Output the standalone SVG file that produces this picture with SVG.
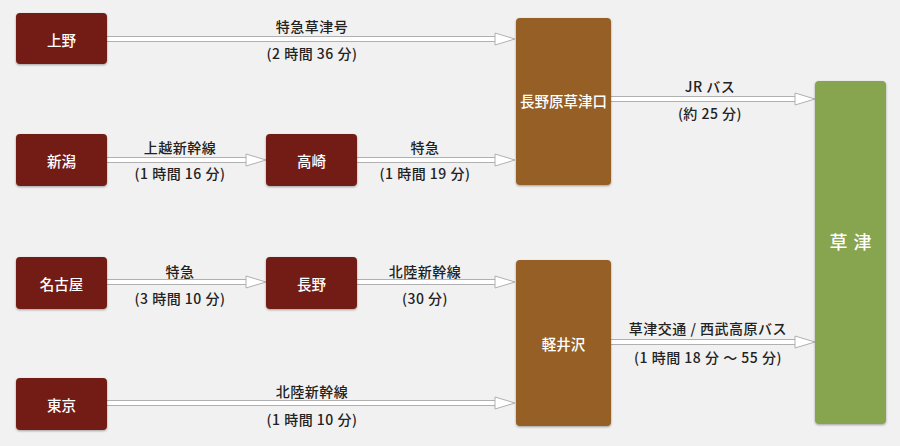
<svg xmlns="http://www.w3.org/2000/svg" width="900" height="446" viewBox="0 0 900 446">
<defs>
<filter id="sh" x="-10%" y="-10%" width="120%" height="120%">
<feDropShadow dx="0" dy="1" stdDeviation="1.2" flood-color="#000" flood-opacity="0.35"/>
</filter>
<style>
.red{fill:#731e15}
.brown{fill:#955f25}
.green{fill:#87a44f}
.nt{font-family:"Noto Sans CJK JP","Noto Sans",sans-serif;font-size:14.5px;font-weight:500;fill:#fff;text-anchor:middle;dominant-baseline:central}
.big{font-family:"Noto Sans CJK JP","Noto Sans",sans-serif;font-size:18px;font-weight:500;fill:#fff;text-anchor:middle;dominant-baseline:central;letter-spacing:6px}
.lb{font-family:"Noto Sans CJK JP","Liberation Sans",sans-serif;font-size:14px;font-weight:500;fill:#222;text-anchor:middle;dominant-baseline:central;letter-spacing:0.5px}
.ln-o{stroke:#b0b0b0;stroke-width:6;fill:none}
.ln-i{stroke:#fff;stroke-width:4;fill:none}
.ah{fill:#fff;stroke:#b0b0b0;stroke-width:1}
</style>
</defs>
<rect width="900" height="446" fill="#f1f1f1"/>

<g id="connectors">
<path class="ln-o" d="M107 39H497"/><path class="ln-i" d="M107 39H497"/>
<polygon class="ah" points="495,33 515,39 495,45"/>
<path class="ln-o" d="M107 160H248"/><path class="ln-i" d="M107 160H248"/>
<polygon class="ah" points="246,154 266,160 246,166"/>
<path class="ln-o" d="M357 160H497"/><path class="ln-i" d="M357 160H497"/>
<polygon class="ah" points="495,154 515,160 495,166"/>
<path class="ln-o" d="M611 99H797"/><path class="ln-i" d="M611 99H797"/>
<polygon class="ah" points="795,93 815,99 795,105"/>
<path class="ln-o" d="M107 282H248"/><path class="ln-i" d="M107 282H248"/>
<polygon class="ah" points="246,276 266,282 246,288"/>
<path class="ln-o" d="M357 282H497"/><path class="ln-i" d="M357 282H497"/>
<polygon class="ah" points="495,276 515,282 495,288"/>
<path class="ln-o" d="M107 403H497"/><path class="ln-i" d="M107 403H497"/>
<polygon class="ah" points="495,397 515,403 495,409"/>
<path class="ln-o" d="M611 342H797"/><path class="ln-i" d="M611 342H797"/>
<polygon class="ah" points="795,336 815,342 795,348"/>

<text class="lb" x="312" y="26">特急草津号</text>
<text class="lb" x="312" y="53">(2 時間 36 分)</text>
<text class="lb" x="180" y="147">上越新幹線</text>
<text class="lb" x="180" y="173">(1 時間 16 分)</text>
<text class="lb" x="425" y="147">特急</text>
<text class="lb" x="425" y="173">(1 時間 19 分)</text>
<text class="lb" x="710" y="86">JR バス</text>
<text class="lb" x="710" y="113">(約 25 分)</text>
<text class="lb" x="180" y="271">特急</text>
<text class="lb" x="180" y="298">(3 時間 10 分)</text>
<text class="lb" x="425" y="271">北陸新幹線</text>
<text class="lb" x="425" y="298">(30 分)</text>
<text class="lb" x="312" y="391">北陸新幹線</text>
<text class="lb" x="312" y="419">(1 時間 10 分)</text>
<text class="lb" x="708" y="328">草津交通 / 西武高原バス</text>
<text class="lb" x="708" y="357">(1 時間 18 分 ～ 55 分)</text>
</g>

<g id="ueno"><rect class="red" x="16" y="13" width="91" height="51" rx="4" filter="url(#sh)"/><text class="nt" x="61.5" y="39">上野</text></g>
<g id="niigata"><rect class="red" x="16" y="134" width="91" height="52" rx="4" filter="url(#sh)"/><text class="nt" x="61.5" y="160">新潟</text></g>
<g id="nagoya"><rect class="red" x="16" y="257" width="91" height="52" rx="4" filter="url(#sh)"/><text class="nt" x="61.5" y="283">名古屋</text></g>
<g id="tokyo"><rect class="red" x="16" y="378" width="91" height="52" rx="4" filter="url(#sh)"/><text class="nt" x="61.5" y="404">東京</text></g>
<g id="takasaki"><rect class="red" x="266" y="134" width="91" height="52" rx="4" filter="url(#sh)"/><text class="nt" x="311.5" y="160">高崎</text></g>
<g id="nagano"><rect class="red" x="266" y="257" width="91" height="52" rx="4" filter="url(#sh)"/><text class="nt" x="311.5" y="283">長野</text></g>
<g id="naganohara"><rect class="brown" x="516" y="18" width="95" height="167" rx="4" filter="url(#sh)"/><text class="nt" x="563.5" y="100">長野原草津口</text></g>
<g id="karuizawa"><rect class="brown" x="516" y="260" width="95" height="166" rx="4" filter="url(#sh)"/><text class="nt" x="563.5" y="343">軽井沢</text></g>
<g id="kusatsu"><rect class="green" x="815" y="81" width="71" height="343" rx="4" filter="url(#sh)"/><text class="big" x="853.5" y="241">草津</text></g>
</svg>
